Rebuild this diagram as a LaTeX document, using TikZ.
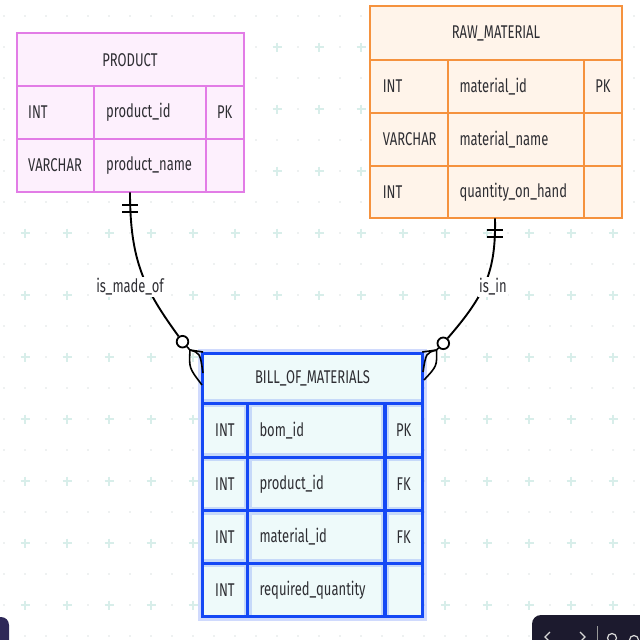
\documentclass[tikz,border=0pt]{standalone}
\usepackage{fontspec}
\setmainfont{Fira Sans}
\usepackage{graphicx}
\usetikzlibrary{calc}
\definecolor{txtc}{HTML}{2E2E33}
\definecolor{prodb}{HTML}{E27CE6}
\definecolor{prodf}{HTML}{FDF0FD}
\definecolor{rawb}{HTML}{F5923E}
\definecolor{rawf}{HTML}{FFF4EA}
\definecolor{bomb}{HTML}{1448F5}
\definecolor{bomf}{HTML}{EEFAFA}
\definecolor{gridplus}{HTML}{D8EEEA}
\definecolor{griddot}{HTML}{DDE3E3}
\definecolor{uidark}{HTML}{1C1A2E}
\definecolor{uipurple}{HTML}{2E2858}
\newcommand{\vstretch}[1]{\scalebox{1}[1.42]{#1}}
\begin{document}
\begin{tikzpicture}[x=1pt,y=-1pt,
  txt/.style={font=\fontsize{13}{15}\selectfont, text=txtc, inner sep=0pt},
  lt/.style={txt, anchor=west},
  ent/.style={inner sep=0pt, line width=2pt},
  conn/.style={draw=black, line width=1.9pt},
  lbl/.style={txt, fill=white, inner sep=1.5pt},
  ring/.style={circle, draw=black, line width=1.8pt, minimum size=11.6pt, inner sep=0pt}]
\useasboundingbox (0,0) rectangle (640,640);
\fill[white] (0,0) rectangle (640,640);
\begin{scope}
\clip (0,0) rectangle (640,640);
% background grid
\foreach \i in {0,...,30}{
  \foreach \j in {0,...,20}{
    \pgfmathsetmacro{\xx}{4+21*\i}
    \pgfmathsetmacro{\yy}{16+31*\j}
    \pgfmathparse{(mod(\i,2)==1 && mod(\j,2)==1) ? 1 : 0}
    \ifnum\pgfmathresult=1
      \draw[gridplus, line width=1.1pt] (\xx-4.5,\yy) -- (\xx+4.5,\yy) (\xx,\yy-4.5) -- (\xx,\yy+4.5);
    \else
      \fill[griddot] (\xx,\yy) circle (0.9);
    \fi
  }
}
% UI remnants
\fill[uipurple, rounded corners=8pt] (-30,617) rectangle (9,670);
\fill[uidark, rounded corners=9pt] (532,615) rectangle (680,670);
\draw[white!85!black, line width=1.2pt] (550,632) -- (545,637) -- (550,642);
\draw[white!85!black, line width=1.2pt] (580,632) -- (585,637) -- (580,642);
\draw[white!60!black, line width=0.8pt] (597,626) -- (597,645);
\draw[white!85!black, line width=1.2pt] (612,638) circle (4.5);
\draw[white!85!black, line width=1.2pt] (634,640) circle (4.5);
\end{scope}

% ---------- PRODUCT ----------
\node[ent, draw=prodb, fill=prodf, minimum width=227pt, minimum height=159pt] (product) at (130.2,112.8) {};
\draw[prodb, line width=2pt] (16.7,85.7) -- (243.7,85.7) (16.7,138.7) -- (243.7,138.7)
  (94,85.7) -- (94,192.3) (205.7,85.7) -- (205.7,192.3);
\node[txt] (prodh) at (130,60) {\vstretch{PRODUCT}};
\node[lt] (p11) at (28,112.2) {\vstretch{INT}};
\node[lt] (p12) at (106,112.2) {\vstretch{product\_id}};
\node[txt] (p13) at (224.7,112.2) {\vstretch{PK}};
\node[lt] (p21) at (28,165.5) {\vstretch{VARCHAR}};
\node[lt] (p22) at (106,165.5) {\vstretch{product\_name}};

% ---------- RAW_MATERIAL ----------
\node[ent, draw=rawb, fill=rawf, minimum width=252.3pt, minimum height=212.3pt] (raw) at (496.2,112.2) {};
\draw[rawb, line width=2pt] (370,60) -- (622.3,60) (370,112.7) -- (622.3,112.7) (370,165.7) -- (622.3,165.7)
  (448.3,60) -- (448.3,218.3) (584,60) -- (584,218.3);
\node[txt] (rawh) at (496,33) {\vstretch{RAW\_MATERIAL}};
\node[lt] (r11) at (382.7,86.3) {\vstretch{INT}};
\node[lt] (r12) at (459.3,86.3) {\vstretch{material\_id}};
\node[txt] (r13) at (603,86.3) {\vstretch{PK}};
\node[lt] (r21) at (382.7,139.2) {\vstretch{VARCHAR}};
\node[lt] (r22) at (459.3,139.2) {\vstretch{material\_name}};
\node[lt] (r31) at (382.7,192) {\vstretch{INT}};
\node[lt] (r32) at (459.3,192) {\vstretch{quantity\_on\_hand}};

% ---------- BILL_OF_MATERIALS ----------
\draw[bomb, opacity=0.2, line width=9pt] (202.7,353.3) rectangle (422.3,616.7);
\node[ent, draw=bomb, fill=bomf, line width=3.5pt, minimum width=219.6pt, minimum height=263.4pt] (bom) at (312.5,485) {};
\begin{scope}
\draw[bomb, opacity=0.18, line width=8pt] (202.7,403.3) -- (422.3,403.3) (202.7,457.3) -- (422.3,457.3)
  (202.7,510.7) -- (422.3,510.7) (202.7,563.3) -- (422.3,563.3)
  (247.7,403.3) -- (247.7,616.7) (385,403.3) -- (385,616.7);
\draw[bomb, line width=3.5pt] (202.7,403.3) -- (422.3,403.3) (202.7,457.3) -- (422.3,457.3)
  (202.7,510.7) -- (422.3,510.7) (202.7,563.3) -- (422.3,563.3)
  (247.7,403.3) -- (247.7,616.7) (385,403.3) -- (385,616.7);
\draw[bomb, line width=3.5pt] (202.7,353.3) rectangle (422.3,616.7);
\end{scope}
\node[txt] (bomh) at (312.5,378.3) {\vstretch{BILL\_OF\_MATERIALS}};
\node[lt] (b11) at (215,430.3) {\vstretch{INT}};
\node[lt] (b12) at (259.3,430.3) {\vstretch{bom\_id}};
\node[txt] (b13) at (403.7,430.3) {\vstretch{PK}};
\node[lt] (b21) at (215,484) {\vstretch{INT}};
\node[lt] (b22) at (259.3,484) {\vstretch{product\_id}};
\node[txt] (b23) at (403.7,484) {\vstretch{FK}};
\node[lt] (b31) at (215,537) {\vstretch{INT}};
\node[lt] (b32) at (259.3,537) {\vstretch{material\_id}};
\node[txt] (b33) at (403.7,537) {\vstretch{FK}};
\node[lt] (b41) at (215,590) {\vstretch{INT}};
\node[lt] (b42) at (259.3,590) {\vstretch{required\_quantity}};

% ---------- connector: is_made_of ----------
\coordinate (ps) at (130,192.3);
\node[ring] (c1) at (182.5,341.7) {};
\coordinate (a1) at (190,350);
\draw[conn] (ps) .. controls (130,262) and (145,290) .. (c1);
\draw[conn] ($(ps)+(-8,13)$) -- ($(ps)+(8,13)$) ($(ps)+(-8,20)$) -- ($(ps)+(8,20)$);
\draw[conn, line width=1.6pt] (c1) -- (a1);
\draw[conn, line width=1.6pt] (a1) -- (203,352);
\draw[conn, line width=1.6pt] (a1) .. controls (200,353) .. (203,373);
\draw[conn, line width=1.6pt] (a1) .. controls (189,368) .. (202,385);
\node[lbl] (l1) at (130,287) {\vstretch{is\_made\_of}};

% ---------- connector: is_in ----------
\coordinate (rs) at (495,218.3);
\node[ring] (c2) at (443.3,343.3) {};
\coordinate (a2) at (436.5,350);
\draw[conn] (rs) .. controls (496,272) and (485,295) .. (c2);
\draw[conn] ($(rs)+(-8,12)$) -- ($(rs)+(8,12)$) ($(rs)+(-8,19)$) -- ($(rs)+(8,19)$);
\draw[conn, line width=1.6pt] (c2) -- (a2);
\draw[conn, line width=1.6pt] (a2) -- (422.3,352);
\draw[conn, line width=1.6pt] (a2) .. controls (426,353) .. (423,372);
\draw[conn, line width=1.6pt] (a2) .. controls (437,366) .. (424,380);
\node[lbl] (l2) at (493,287) {\vstretch{is\_in}};
\end{tikzpicture}
\end{document}
